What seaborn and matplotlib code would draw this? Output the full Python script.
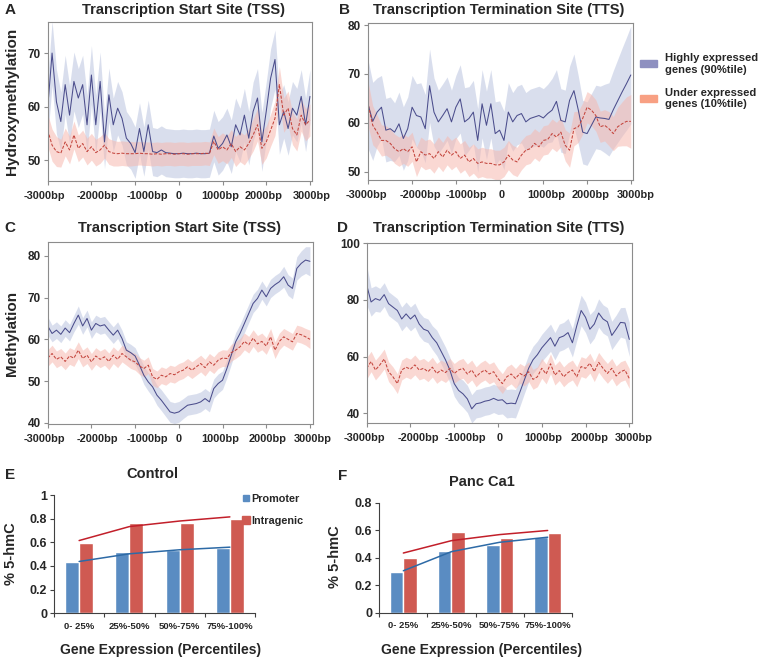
import numpy as np
import pandas as pd
import matplotlib
matplotlib.use("Agg")
import matplotlib.pyplot as plt
import matplotlib.transforms as mtransforms
import seaborn as sns
from matplotlib.patches import Patch
from matplotlib.lines import Line2D

sns.set_theme(style="white")
plt.rcParams['font.family'] = ['Liberation Sans', 'DejaVu Sans']
plt.rcParams['font.weight'] = 'bold'

# distance from TSS / TTS (bp), one reading every 100bp
positions = list(range(-3000, 3001, 100))
x_ticks = [-3000, -2000, -1000, 0, 1000, 2000, 3000]
x_tick_labels = ['-3000bp', '-2000bp', '-1000bp', '0', '1000bp', '2000bp', '3000bp']

# A: hydroxymethylation around TSS
tss_hmc_high = [59.7, 70.0, 60.9, 57.2, 64.1, 58.4, 64.7, 61.6, 64.1, 56.6,
                65.9, 56.6, 64.7, 53.4, 62.2, 56.6, 59.7, 57.8, 54.1, 53.1,
                51.4, 55.9, 51.6, 56.6, 51.6, 51.4, 51.9, 51.4, 51.3, 51.2,
                51.2, 51.3, 51.2, 51.2, 51.3, 51.2, 51.2, 51.3, 54.5, 52.2,
                53.1, 54.7, 52.5, 56.6, 54.7, 58.4, 54.1, 59.1, 61.6, 53.4,
                59.1, 65.3, 68.8, 56.6, 59.1, 55.9, 59.7, 58.4, 61.9, 56.6,
                61.9]
tss_hmc_high_err = [5.5, 6.0, 6.0, 5.5, 5.5, 5.5, 5.5, 5.5, 5.5, 5.5,
                    5.5, 5.5, 5.5, 5.0, 5.0, 5.0, 5.0, 5.0, 5.0, 4.8,
                    4.8, 4.8, 4.6, 4.6, 4.5, 4.5, 4.5, 4.5, 4.5, 4.5,
                    4.5, 4.5, 4.5, 4.5, 4.5, 4.5, 4.5, 4.5, 4.8, 5.0,
                    5.0, 5.0, 5.0, 5.0, 5.0, 5.0, 5.0, 5.5, 5.5, 5.5,
                    5.5, 5.5, 5.5, 5.5, 5.0, 5.0, 5.0, 5.0, 5.0, 5.0,
                    5.0]
tss_hmc_low = [55.6, 52.8, 51.6, 51.3, 53.4, 51.9, 54.7, 52.2, 53.1, 51.6,
               52.5, 51.4, 51.9, 52.8, 51.6, 51.3, 51.2, 51.3, 51.2, 51.2,
               51.2, 51.3, 51.2, 51.2, 51.1, 51.2, 51.1, 51.2, 51.2, 51.1,
               51.2, 51.2, 51.1, 51.2, 51.2, 51.2, 51.3, 51.2, 53.5, 51.9,
               52.5, 51.9, 53.1, 51.6, 52.5, 51.9, 53.1, 54.7, 56.6, 52.2,
               53.4, 55.6, 57.8, 64.1, 58.4, 59.7, 55.9, 54.7, 58.4, 56.6,
               57.5]
tss_hmc_low_err = [3.0, 3.0, 2.8, 2.6, 2.6, 2.6, 2.6, 2.5, 2.5, 2.5,
                   2.5, 2.5, 2.5, 2.4, 2.4, 2.4, 2.3, 2.3, 2.3, 2.3,
                   2.2, 2.2, 2.2, 2.2, 2.2, 2.2, 2.2, 2.2, 2.2, 2.2,
                   2.2, 2.2, 2.2, 2.2, 2.2, 2.2, 2.2, 2.2, 2.5, 2.5,
                   2.6, 2.6, 2.6, 2.8, 2.8, 2.8, 2.8, 3.0, 3.0, 3.0,
                   3.0, 3.0, 3.2, 3.4, 3.2, 3.2, 3.0, 3.0, 3.0, 3.0,
                   3.0]

# B: hydroxymethylation around TTS
tts_hmc_high = [63.6, 60.3, 62.2, 63.2, 58.5, 58.8, 58.1, 59.8, 56.8, 58.8,
                63.2, 61.5, 61.2, 58.8, 67.6, 62.2, 60.2, 61.5, 62.9, 60.2,
                63.2, 64.9, 60.2, 60.9, 62.2, 56.4, 63.9, 59.5, 63.9, 57.8,
                58.5, 56.4, 62.2, 60.2, 61.5, 61.9, 60.2, 60.9, 61.2, 61.5,
                61.0, 61.9, 62.6, 64.4, 60.5, 60.2, 64.6, 66.6, 62.6, 58.1,
                57.8, 59.5, 61.2, 61.0, 60.9, 60.7, 62.7, 64.5, 66.3, 68.0,
                69.8]
tts_hmc_high_err = [9.0, 8.0, 7.0, 6.5, 6.5, 6.5, 6.0, 6.5, 6.5, 6.5,
                    6.5, 6.5, 7.0, 7.0, 7.5, 7.0, 6.5, 6.5, 6.5, 6.5,
                    6.5, 7.0, 7.0, 6.5, 6.5, 6.5, 7.0, 7.0, 7.0, 6.5,
                    6.0, 6.0, 6.0, 6.0, 6.0, 6.0, 6.0, 6.0, 6.0, 6.0,
                    6.0, 6.0, 6.5, 6.5, 6.5, 6.5, 7.0, 7.5, 7.0, 6.5,
                    6.5, 6.5, 6.5, 6.5, 7.0, 7.5, 8.0, 8.5, 9.0, 9.5,
                    10.0]
tts_hmc_low = [63.6, 59.5, 58.1, 56.4, 56.4, 55.8, 54.7, 54.1, 54.7, 54.1,
               55.1, 52.0, 54.1, 53.4, 53.7, 52.7, 54.1, 53.0, 54.4, 53.4,
               54.1, 52.7, 53.4, 52.0, 52.7, 51.7, 52.0, 51.7, 51.7, 51.4,
               51.4, 52.0, 53.4, 52.4, 52.0, 53.4, 54.4, 54.7, 55.8, 55.1,
               56.4, 56.6, 57.8, 57.1, 58.1, 55.4, 54.4, 58.8, 59.2, 60.9,
               63.2, 62.6, 61.5, 59.2, 59.5, 58.8, 57.8, 59.2, 59.8, 60.3,
               60.3]
tts_hmc_low_err = [4.5, 4.0, 3.5, 3.2, 3.0, 3.0, 3.0, 3.0, 3.0, 3.0,
                   3.0, 3.0, 3.0, 3.0, 3.0, 3.0, 3.0, 3.0, 3.0, 3.0,
                   3.0, 3.0, 3.0, 3.0, 3.0, 3.0, 3.0, 3.0, 3.0, 3.0,
                   3.0, 3.0, 3.0, 3.0, 3.0, 3.0, 3.0, 3.0, 3.0, 3.0,
                   3.0, 3.0, 3.0, 3.0, 3.0, 3.2, 3.5, 3.5, 3.2, 3.2,
                   3.2, 3.2, 3.2, 3.2, 3.2, 3.5, 3.5, 4.0, 4.5, 5.0,
                   5.5]

# C: methylation around TSS
tss_mc_high = [63.2, 61.4, 62.2, 61.2, 62.7, 61.6, 63.8, 65.8, 63.2, 65.0,
               62.2, 63.8, 63.2, 63.5, 62.2, 61.0, 62.2, 60.2, 57.4, 56.8,
               56.0, 53.8, 51.4, 49.8, 48.6, 46.6, 45.4, 44.0, 42.6, 42.3,
               42.6, 43.4, 44.2, 44.4, 44.6, 45.0, 45.8, 45.0, 48.2, 49.4,
               50.2, 53.0, 56.2, 59.4, 61.4, 63.8, 66.2, 68.6, 69.8, 71.8,
               70.2, 72.2, 73.1, 73.8, 75.0, 73.0, 72.2, 77.0, 78.2, 79.0,
               78.7]
tss_mc_high_err = [2.2, 2.0, 2.0, 2.0, 2.0, 2.0, 2.0, 2.2, 2.0, 2.0,
                   2.0, 2.0, 2.0, 2.0, 2.0, 2.0, 2.0, 2.0, 2.0, 2.0,
                   2.0, 2.0, 2.2, 2.2, 2.4, 2.4, 2.5, 2.5, 2.5, 2.5,
                   2.5, 2.4, 2.4, 2.4, 2.4, 2.4, 2.4, 2.4, 2.3, 2.3,
                   2.2, 2.2, 2.2, 2.2, 2.2, 2.2, 2.2, 2.2, 2.2, 2.2,
                   2.2, 2.2, 2.2, 2.2, 2.5, 2.5, 2.5, 2.8, 3.0, 3.2,
                   3.5]
tss_mc_low = [55.5, 56.6, 55.2, 55.8, 54.7, 56.0, 55.5, 57.4, 55.4, 56.2,
              54.6, 56.0, 55.2, 55.8, 54.7, 56.2, 55.2, 56.6, 55.8, 55.0,
              54.6, 53.6, 53.0, 53.8, 51.0, 50.4, 51.4, 51.0, 51.8, 51.5,
              52.2, 52.6, 53.4, 52.6, 53.4, 54.2, 53.2, 54.6, 53.8, 55.0,
              55.5, 55.4, 56.8, 57.4, 58.2, 59.5, 58.7, 60.3, 58.9, 59.5,
              58.4, 60.6, 57.4, 59.5, 60.6, 60.0, 59.4, 61.4, 61.1, 60.6,
              60.0]
tss_mc_low_err = [2.0, 2.0, 2.0, 2.0, 2.0, 2.0, 2.0, 2.0, 2.0, 2.0,
                  2.0, 2.0, 2.0, 2.0, 2.0, 2.0, 2.0, 2.0, 2.0, 2.0,
                  2.0, 2.0, 2.0, 2.0, 2.0, 2.0, 2.0, 2.0, 2.0, 2.0,
                  2.0, 2.0, 2.0, 2.0, 2.0, 2.0, 2.0, 2.0, 2.0, 2.0,
                  2.0, 2.0, 2.0, 2.0, 2.0, 2.0, 2.0, 2.0, 2.0, 2.0,
                  2.0, 2.0, 2.0, 2.0, 2.0, 2.0, 2.0, 2.0, 2.0, 2.0,
                  2.2]

# D: methylation around TTS
tts_mc_high = [85.3, 79.3, 80.5, 79.9, 81.9, 78.7, 77.5, 76.3, 73.3, 75.1,
               73.3, 74.7, 71.5, 69.7, 69.1, 66.7, 64.9, 61.9, 58.9, 55.3,
               50.5, 48.1, 46.9, 45.1, 41.6, 43.4, 43.7, 44.3, 44.6, 45.3,
               44.6, 44.8, 43.4, 43.6, 43.4, 47.5, 51.7, 55.9, 58.9, 60.7,
               63.1, 64.9, 66.7, 63.7, 66.7, 67.3, 68.5, 64.9, 70.9, 76.3,
               73.9, 69.7, 71.5, 75.4, 73.3, 72.3, 67.5, 69.7, 72.1, 71.9,
               66.1]
tts_mc_high_err = [7.0, 5.0, 4.5, 4.2, 4.2, 4.2, 4.2, 4.2, 4.2, 4.2,
                   4.2, 4.2, 4.2, 4.2, 4.2, 4.2, 4.5, 4.5, 4.5, 4.5,
                   4.5, 4.5, 4.8, 4.8, 5.0, 5.0, 5.0, 5.0, 5.0, 5.0,
                   5.0, 5.0, 5.0, 5.0, 5.0, 5.0, 4.8, 4.8, 4.8, 4.8,
                   4.8, 4.8, 4.8, 4.8, 4.8, 4.8, 5.0, 5.0, 5.2, 5.4,
                   5.4, 5.2, 5.0, 5.0, 5.0, 5.0, 5.0, 5.0, 5.2, 5.5,
                   6.0]
tts_mc_low = [55.9, 58.3, 55.3, 57.1, 59.2, 54.7, 52.9, 50.5, 55.3, 56.3,
              55.6, 57.1, 55.3, 55.9, 54.7, 56.3, 54.1, 55.3, 54.4, 55.9,
              54.1, 55.3, 55.9, 53.9, 55.3, 52.9, 54.4, 55.3, 53.9, 54.7,
              52.3, 50.5, 52.9, 53.9, 52.3, 54.1, 53.2, 54.7, 52.0, 52.9,
              55.9, 53.9, 57.5, 53.5, 55.1, 52.9, 54.4, 55.3, 52.9, 56.5,
              55.9, 57.7, 54.7, 58.0, 55.9, 54.1, 55.9, 53.2, 54.7, 55.3,
              52.3]
tts_mc_low_err = [3.8, 3.6, 3.5, 3.5, 3.5, 3.5, 3.5, 3.5, 3.5, 3.5,
                  3.5, 3.5, 3.5, 3.5, 3.5, 3.5, 3.5, 3.5, 3.5, 3.5,
                  3.5, 3.5, 3.5, 3.5, 3.5, 3.5, 3.5, 3.5, 3.5, 3.5,
                  3.5, 3.5, 3.5, 3.5, 3.5, 3.5, 3.5, 3.5, 3.5, 3.5,
                  3.5, 3.5, 3.5, 3.5, 3.5, 3.5, 3.5, 3.5, 3.5, 3.5,
                  3.5, 3.5, 3.5, 3.5, 3.5, 3.5, 3.5, 3.5, 3.5, 3.5,
                  3.5]

# E / F: % 5-hmC by expression percentile
percentile_bins = ['0- 25%', '25%-50%', '50%-75%', '75%-100%']
control_promoter = [0.433, 0.522, 0.531, 0.550]
control_intragenic = [0.593, 0.761, 0.761, 0.798]
control_promoter_trend = [0.438, 0.503, 0.537, 0.559]
control_intragenic_trend = [0.615, 0.733, 0.780, 0.815]
panc_promoter = [0.295, 0.451, 0.495, 0.549]
panc_intragenic = [0.395, 0.590, 0.541, 0.580]
panc_promoter_trend = [0.305, 0.444, 0.512, 0.549]
panc_intragenic_trend = [0.434, 0.524, 0.568, 0.598]

HI_LINE, HI_BAND = '#4b4d8c', '#cdd4e8'
LO_LINE, LO_BAND = '#c4453d', '#f6b9b0'
BAR_BLUE, BAR_RED = '#5a8cc2', '#cf5a52'
TREND_BLUE, TREND_RED = '#2d6aa6', '#c21f2a'

W, H = 763, 660
fig = plt.figure(figsize=(W / 100, H / 100), dpi=100)


def px_axes(left, top, right, bottom):
    return fig.add_axes([left / W, 1 - bottom / H, (right - left) / W, (bottom - top) / H])


def px_text(x, y, s, **kw):
    fig.text(x / W, 1 - y / H, s, ha='center', va='center', fontweight='bold', **kw)


def profile(ax, hi, hi_err, lo, lo_err, xlim, ylim, yticks, label_shift):
    x = np.array(positions)
    hi, hi_err = np.array(hi), np.array(hi_err)
    lo, lo_err = np.array(lo), np.array(lo_err)
    ax.fill_between(x, hi - hi_err, hi + hi_err, color=HI_BAND, alpha=0.75, lw=0)
    ax.fill_between(x, lo - lo_err, lo + lo_err, color=LO_BAND, alpha=0.55, lw=0)
    sns.lineplot(x=x, y=hi, ax=ax, color=HI_LINE, lw=0.75)
    sns.lineplot(x=x, y=lo, ax=ax, color=LO_LINE, lw=0.75, linestyle=(0, (3, 1.5)))
    ax.set_xlim(*xlim)
    ax.set_ylim(*ylim)
    ax.set_xticks(x_ticks)
    ax.set_xticklabels(x_tick_labels)
    ax.set_yticks(yticks)
    ax.set_xlabel('')
    ax.set_ylabel('')
    for sp in ax.spines.values():
        sp.set_color('#8c8c8c')
        sp.set_linewidth(0.8)
    ax.tick_params(axis='both', direction='out', length=3, width=0.8, color='#8c8c8c',
                   bottom=True, left=True)
    ax.tick_params(axis='x', pad=4, labelsize=7.9)
    ax.tick_params(axis='y', pad=2, labelsize=8.5)
    for lab in ax.get_xticklabels() + ax.get_yticklabels():
        lab.set_fontweight('bold')
    # the labels in the source sit a little off their ticks
    for lab, dx in zip(ax.get_xticklabels(), label_shift):
        lab.set_transform(lab.get_transform() +
                          mtransforms.ScaledTranslation(dx / 100, 0, fig.dpi_scale_trans))


def bars(ax, promoter, intragenic, trend_p, trend_i, ylim, yticks, ytick_labels, width):
    df = pd.DataFrame({
        'bin': percentile_bins * 2,
        'region': ['Promoter'] * 4 + ['Intragenic'] * 4,
        'value': promoter + intragenic,
    })
    sns.barplot(data=df, x='bin', y='value', hue='region', palette=[BAR_BLUE, BAR_RED],
                width=width, saturation=1, ax=ax, legend=False)
    ax.plot(range(4), trend_i, color=TREND_RED, lw=1.1)
    ax.plot(range(4), trend_p, color=TREND_BLUE, lw=1.1)
    ax.set_xlim(-0.5, 3.5)
    ax.set_ylim(*ylim)
    ax.set_yticks(yticks)
    ax.set_yticklabels(ytick_labels)
    ax.set_xlabel('')
    ax.set_ylabel('')
    sns.despine(ax=ax)
    for side in ['left', 'bottom']:
        ax.spines[side].set_color('#404040')
        ax.spines[side].set_linewidth(0.8)
    ax.set_xticks([-0.5, 0.5, 1.5, 2.5, 3.5], minor=True)
    ax.tick_params(axis='x', which='major', length=0, labelsize=6.8, pad=6)
    ax.tick_params(axis='x', which='minor', direction='out', length=3, width=0.8,
                   color='#404040', bottom=True)
    ax.tick_params(axis='y', direction='out', length=3, width=0.8, color='#404040',
                   left=True, labelsize=9, pad=2)
    for lab in ax.get_xticklabels() + ax.get_yticklabels():
        lab.set_fontweight('bold')


ax_a = px_axes(47.7, 22, 311.7, 181)
profile(ax_a, tss_hmc_high, tss_hmc_high_err, tss_hmc_low, tss_hmc_low_err,
        (-3000, 3040), (46.1, 75.8), [50, 60, 70], [-3, 6, 12, 0, -2.5, -2.5, 1.5])
ax_b = px_axes(367.7, 22.7, 633, 180)
profile(ax_b, tts_hmc_high, tts_hmc_high_err, tts_hmc_low, tts_hmc_low_err,
        (-3015, 3050), (48.3, 80.5), [50, 60, 70, 80], [-2, 8, 11, 2, 3, 4, 5])
ax_c = px_axes(47.7, 241.7, 313, 424)
profile(ax_c, tss_mc_high, tss_mc_high_err, tss_mc_low, tss_mc_low_err,
        (-3000, 3070), (39.7, 83.4), [40, 50, 60, 70, 80], [-3, 6.5, 12, 0, -2.5, 1, 3])
ax_d = px_axes(366.7, 243.3, 631.7, 423.3)
profile(ax_d, tts_mc_high, tts_mc_high_err, tts_mc_low, tts_mc_low_err,
        (-3000, 3055), (36.5, 100), [40, 60, 80, 100], [-2, 7.5, 11.5, 1.3, 1.3, 4.5, 4.7])

ax_e = px_axes(54, 495, 255, 613.3)
bars(ax_e, control_promoter, control_intragenic, control_promoter_trend,
     control_intragenic_trend, (0, 1), [0, 0.2, 0.4, 0.6, 0.8, 1],
     ['0', '0.2', '0.4', '0.6', '0.8', '1'], 0.56)
ax_f = px_axes(379.3, 502.7, 571.7, 612.7)
bars(ax_f, panc_promoter, panc_intragenic, panc_promoter_trend,
     panc_intragenic_trend, (0, 0.8), [0, 0.2, 0.4, 0.6, 0.8],
     ['0', '0.2', '0.4', '0.6', '0.8'], 0.555)

# titles, panel letters and axis labels
px_text(183, 10, 'Transcription Start Site (TSS)', fontsize=10.5)
px_text(499, 10, 'Transcription Termination Site (TTS)', fontsize=10.5)
px_text(179, 228, 'Transcription Start Site (TSS)', fontsize=10.5)
px_text(499, 228, 'Transcription Termination Site (TTS)', fontsize=10.5)
px_text(152, 474, 'Control', fontsize=10.5)
px_text(482, 482, 'Panc Ca1', fontsize=10.5)
for letter, lx, ly in [('A', 10, 10), ('B', 344, 10), ('C', 10, 228),
                       ('D', 343, 228), ('E', 10, 475), ('F', 343, 476)]:
    px_text(lx, ly, letter, fontsize=11)
px_text(12, 101, 'Hydroxymethylation', fontsize=11, rotation=90)
px_text(12, 333, 'Methylation', fontsize=11, rotation=90)
px_text(11, 554, '% 5-hmC', fontsize=10.5, rotation=90)
px_text(335, 557, '% 5-hmC', fontsize=10.5, rotation=90)
px_text(161, 650, 'Gene Expression (Percentiles)', fontsize=10)
px_text(482, 650, 'Gene Expression (Percentiles)', fontsize=10)

# legends
fig.legend([Patch(color='#8e90c0'), Patch(color='#f8a083')],
           ['Highly expressed\ngenes (90%tile)', 'Under expressed\ngenes (10%tile)'],
           loc='upper left', bbox_to_anchor=(640 / W, 1 - 53 / H), frameon=False,
           handlelength=1.5, handleheight=0.55, handletextpad=0.75, labelspacing=1.15,
           borderpad=0, borderaxespad=0, prop={'size': 8.1, 'weight': 'bold'})
ax_e.legend([Line2D([], [], marker='s', ls='', color=BAR_BLUE, markersize=4.5),
             Line2D([], [], marker='s', ls='', color=BAR_RED, markersize=5.5)],
            ['Promoter', 'Intragenic'], loc='upper left',
            bbox_to_anchor=(243 / W, 1 - 494 / H), bbox_transform=fig.transFigure,
            frameon=False, handlelength=0.6, handletextpad=0.2, labelspacing=1.1,
            borderpad=0, borderaxespad=0, prop={'size': 7.8, 'weight': 'bold'})

fig.savefig('out.png', dpi=100)
